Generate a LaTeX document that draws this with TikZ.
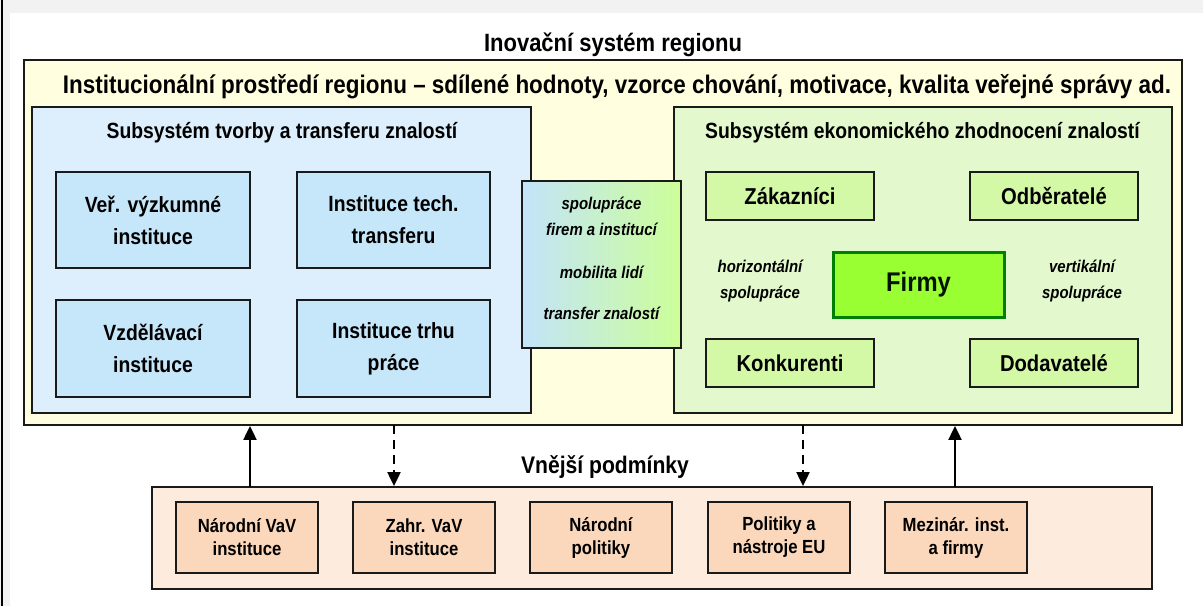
\documentclass[tikz,border=0pt]{standalone}
\usepackage{fontspec}
\setmainfont{Liberation Sans}[FakeStretch=0.88]
\usetikzlibrary{arrows.meta}
\definecolor{bggray}{HTML}{F2F2F2}
\definecolor{yellowbg}{HTML}{FFFFE0}
\definecolor{bluebg}{HTML}{DDEFFC}
\definecolor{bluebox}{HTML}{C6E6FA}
\definecolor{greenbg}{HTML}{E3F9CD}
\definecolor{greenbox}{HTML}{D3F9A6}
\definecolor{firmfill}{HTML}{99FF33}
\definecolor{firmline}{HTML}{008000}
\definecolor{peachbg}{HTML}{FDEBDD}
\definecolor{peachbox}{HTML}{FBD8BC}
\definecolor{midleft}{HTML}{C3E3FA}
\definecolor{midright}{HTML}{CCFF99}
\definecolor{framecol}{HTML}{1A1A1A}
\tikzset{
  panel/.style={draw=framecol, line width=1.8pt, inner sep=0pt},
  innerbox/.style={draw=framecol, line width=1.8pt, align=center, inner sep=0pt,
    font=\bfseries\fontsize{22}{32}\selectfont},
  smallbox/.style={draw=framecol, line width=1.6pt, fill=peachbox, align=center, inner sep=0pt,
    minimum width=142pt, minimum height=71pt, font=\bfseries\fontsize{19}{23}\selectfont},
  greenitem/.style={innerbox, fill=greenbox, minimum width=168pt, minimum height=48pt,
    font=\bfseries\fontsize{23}{28}\selectfont},
  blueitem/.style={innerbox, fill=bluebox, minimum width=194pt, minimum height=96pt},
  heading/.style={font=\bfseries\fontsize{22}{26}\selectfont, inner sep=0pt},
  itx/.style={align=center, inner sep=0pt, font=\bfseries\itshape\fontsize{17}{26}\selectfont},
  flowline/.style={line width=2pt, draw=black, -{Triangle[length=14pt,width=13pt]}},
}
\begin{document}
\begin{tikzpicture}[x=1pt,y=-1pt]
\useasboundingbox (0,0) rectangle (1203,606);
% background
\fill[bggray] (0,0) rectangle (1203,606);
\fill[white] (10,13) rectangle (1203,606);
\draw[black, line width=2.5pt] (2,0) -- (2,606);

\node[heading, font=\bfseries\fontsize{25}{28}\selectfont] (title) at (613,45) {Inovační systém regionu};

% yellow institutional environment
\node[panel, fill=yellowbg, minimum width=1158pt, minimum height=365pt] (yellow) at (603,242.5) {};
\node[heading, font=\bfseries\fontsize{25.5}{28}\selectfont] (header) at (617,87)
  {Institucionální prostředí regionu – sdílené hodnoty, vzorce chování, motivace, kvalita veřejné správy ad.};

% blue subsystem
\node[panel, fill=bluebg, minimum width=499pt, minimum height=306pt] (blue) at (281.5,260) {};
\node[heading] (bluetitle) at (282,133) {Subsystém tvorby a transferu znalostí};
\node[blueitem] (b1) at (153,220) {Veř. výzkumné\\instituce};
\node[blueitem, minimum width=193pt] (b2) at (393.5,220) {Instituce tech.\\transferu};
\node[blueitem, minimum height=97pt] (b3) at (153,348.5) {Vzdělávací\\instituce};
\node[blueitem, minimum width=193pt, minimum height=97pt] (b4) at (393.5,348.5) {Instituce trhu\\práce};

% green subsystem
\node[panel, fill=greenbg, minimum width=498pt, minimum height=306pt] (green) at (923,260) {};
\node[heading] (greentitle) at (922.5,133) {Subsystém ekonomického zhodnocení znalostí};
\node[greenitem] (g1) at (790,196) {Zákazníci};
\node[greenitem] (g2) at (1054,196) {Odběratelé};
\node[greenitem] (g3) at (790,363) {Konkurenti};
\node[greenitem] (g4) at (1054,363) {Dodavatelé};
\node[draw=firmline, line width=3pt, fill=firmfill, minimum width=171pt, minimum height=65pt,
  inner sep=0pt, text=black!85!firmline, font=\bfseries\fontsize{27}{30}\selectfont] (firmy) at (918.5,284.5) {Firmy};
\node[itx] (horiz) at (760,281) {horizontální\\spolupráce};
\node[itx] (vert) at (1082,281) {vertikální\\spolupráce};

% middle cooperation box
\node[panel, left color=midleft, right color=midright, minimum width=159pt, minimum height=167pt] (mid) at (601.5,264.5) {};
\node[itx] (m1) at (601.5,216) {spolupráce\\firem a institucí};
\node[itx] (m2) at (601.5,272) {mobilita lidí};
\node[itx] (m3) at (601.5,313) {transfer znalostí};

% external conditions
\node[heading, font=\bfseries\fontsize{24}{28}\selectfont] (exttitle) at (605,467) {Vnější podmínky};
\node[panel, fill=peachbg, minimum width=1000pt, minimum height=102pt] (ext) at (652,538) {};
\node[smallbox] (e1) at (247,537.5) {Národní VaV\\instituce};
\node[smallbox] (e2) at (424,537.5) {Zahr. VaV\\instituce};
\node[smallbox] (e3) at (601,537.5) {Národní\\politiky};
\node[smallbox] (e4) at (779,537.5) {Politiky a\\nástroje EU};
\node[smallbox] (e5) at (956,537.5) {Mezinár. inst.\\a firmy};

% arrows
\coordinate (p1) at (250,487);
\coordinate (p2) at (394,425);
\coordinate (p3) at (803,425);
\coordinate (p4) at (955,487);
\draw[flowline] (p1) -- (p1 |- yellow.south);
\draw[flowline, dash pattern=on 9pt off 6pt] (p2) -- (p2 |- ext.north);
\draw[flowline, dash pattern=on 9pt off 6pt] (p3) -- (p3 |- ext.north);
\draw[flowline] (p4) -- (p4 |- yellow.south);
\end{tikzpicture}
\end{document}
